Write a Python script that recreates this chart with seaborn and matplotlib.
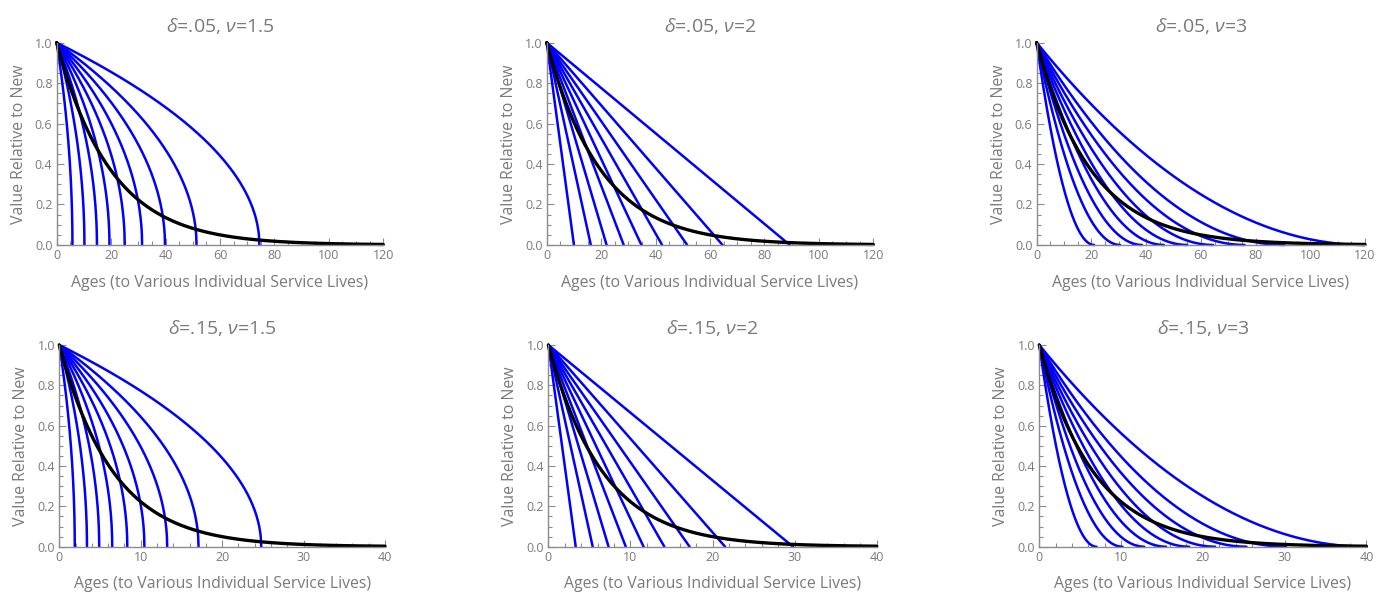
import numpy as np
import pandas as pd
import matplotlib
matplotlib.use('Agg')
import matplotlib.pyplot as plt
import seaborn as sns
from matplotlib.ticker import MultipleLocator

# Panel parameters (from the titles)
deltas = [0.05, 0.15]
nus = [1.5, 2, 3]
x_max = [120, 40]
x_major = [20, 10]
x_minor = [5, 2]

# Individual service lives (end points of the blue curves)
lives_d05_v15 = [5.8, 10.2, 14.8, 19.4, 25.0, 31.4, 39.8, 51.4, 74.5]
lives_d05_v2 = [10.0, 16.2, 22.0, 28.3, 34.8, 42.4, 51.6, 64.6, 89.3]
lives_d05_v3 = [21.0, 30.5, 38.5, 46.5, 55.0, 64.5, 76.0, 90.5, 120.0]
lives_d15_v15 = [1.9, 3.4, 4.9, 6.5, 8.35, 10.45, 13.25, 17.1, 24.8]
lives_d15_v2 = [3.33, 5.4, 7.33, 9.43, 11.6, 14.13, 17.2, 21.53, 29.8]
lives_d15_v3 = [7.0, 10.17, 12.83, 15.5, 18.33, 21.5, 25.33, 30.17, 40.0]

lives = [[lives_d05_v15, lives_d05_v2, lives_d05_v3],
         [lives_d15_v15, lives_d15_v2, lives_d15_v3]]

x_label = 'Ages (to Various Individual Service Lives)'
y_label = 'Value Relative to New'

sns.set_style('ticks')
plt.rcParams['font.family'] = ['Open Sans', 'DejaVu Sans']
plt.rcParams['mathtext.fontset'] = 'custom'
plt.rcParams['mathtext.rm'] = 'Open Sans'
plt.rcParams['mathtext.it'] = 'Open Sans:italic'

gray = '#8c8c8c'
text_gray = '#7a7a7a'

fig = plt.figure(figsize=(13.82, 5.96), dpi=100)

# axes rectangles [left, bottom, width, height] in figure fractions
rects = [[[0.0410, 0.589, 0.2363, 0.3394],
          [0.3956, 0.589, 0.2363, 0.3394],
          [0.7501, 0.589, 0.2376, 0.3394]],
         [[0.0429, 0.0827, 0.2357, 0.3384],
          [0.3968, 0.0827, 0.2376, 0.3384],
          [0.7520, 0.0827, 0.2367, 0.3384]]]

for r, delta in enumerate(deltas):
    for c, nu in enumerate(nus):
        ax = fig.add_axes(rects[r][c])
        # value profile of one asset: (1 - age/life)^(nu - 1)
        rows = []
        for life in lives[r][c]:
            ages = np.linspace(0, life, 400)
            vals = (1 - ages / life) ** (nu - 1)
            rows.append(pd.DataFrame({'age': ages, 'value': vals, 'life': life}))
        df = pd.concat(rows)
        sns.lineplot(data=df, x='age', y='value', units='life', estimator=None,
                     color='#0000ff', linewidth=1.8, ax=ax, clip_on=False)
        # aggregate (geometric) profile
        ages = np.linspace(0, x_max[r], 600)
        sns.lineplot(x=ages, y=np.exp(-delta * ages), color='black',
                     linewidth=2.4, ax=ax, clip_on=False)

        ax.set_xlim(0, x_max[r])
        ax.set_ylim(0, 1.0)
        ax.xaxis.set_major_locator(MultipleLocator(x_major[r]))
        ax.xaxis.set_minor_locator(MultipleLocator(x_minor[r]))
        ax.yaxis.set_major_locator(MultipleLocator(0.2))
        ax.yaxis.set_minor_locator(MultipleLocator(0.05))
        ax.xaxis.set_major_formatter(plt.FuncFormatter(lambda v, p: f'{v:.0f}'))
        ax.yaxis.set_major_formatter(plt.FuncFormatter(lambda v, p: f'{v:.1f}'))
        ax.tick_params(which='both', direction='in', color=gray, width=0.8,
                       labelsize=9, labelcolor=text_gray, pad=3)
        ax.tick_params(which='major', length=5)
        ax.tick_params(which='minor', length=3)
        sns.despine(ax=ax)
        for s in ['left', 'bottom']:
            ax.spines[s].set_color(gray)
            ax.spines[s].set_linewidth(1.0)
        ax.set_xlabel(x_label, fontsize=11.4, color=text_gray, labelpad=9)
        ax.set_ylabel(y_label, fontsize=11.4, color=text_gray, labelpad=6)
        d_txt = f'{delta:.2f}'.lstrip('0')
        n_txt = f'{nu:g}'
        ax.set_title(rf'$\delta$={d_txt}, $\nu$={n_txt}', fontsize=14,
                     color=text_gray, pad=8)

fig.savefig('out.png', dpi=100)
